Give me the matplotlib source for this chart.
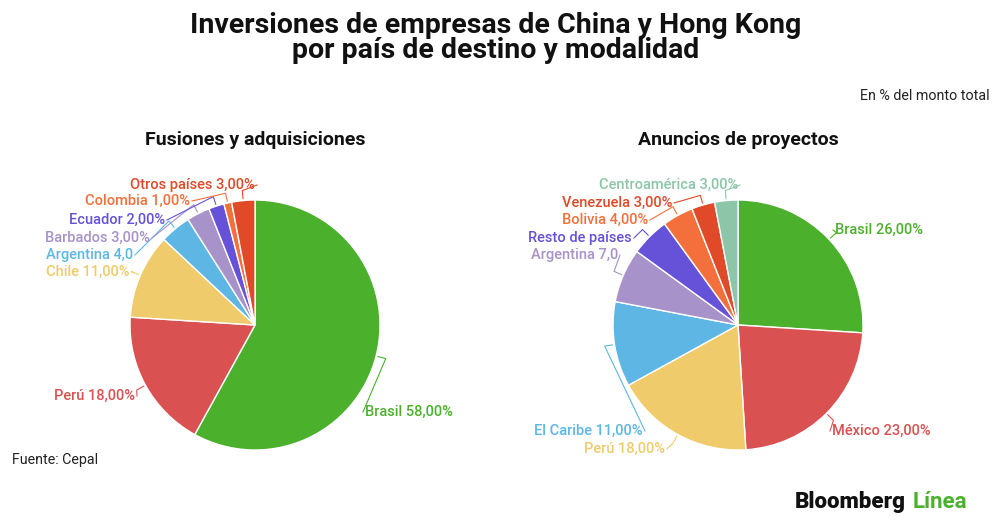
import matplotlib.pyplot as plt
import numpy as np

plt.rcParams['font.family'] = ['Roboto', 'DejaVu Sans']

# datos
izq_labels = ["Brasil", "Perú", "Chile", "Argentina", "Barbados", "Ecuador", "Colombia", "Otros países"]
izq_values = [58, 18, 11, 4, 3, 2, 1, 3]
izq_colors = ["#4bb12d", "#d95151", "#efcb6b", "#5db6e3", "#a792c9", "#6652d9", "#f3703c", "#e04a28"]

der_labels = ["Brasil", "México", "Perú", "El Caribe", "Argentina", "Resto de países", "Bolivia", "Venezuela", "Centroamérica"]
der_values = [26, 23, 18, 11, 7, 5, 4, 3, 3]
der_colors = ["#4bb12d", "#d95151", "#efcb6b", "#5db6e3", "#a792c9", "#6652d9", "#f3703c", "#e04a28", "#8cc5a8"]

# textos tal como aparecen (algunos cortados en el original)
izq_text = ["Brasil 58,00%", "Perú 18,00%", "Chile 11,00%", "Argentina 4,0", "Barbados 3,00%",
            "Ecuador 2,00%", "Colombia 1,00%", "Otros países 3,00%"]
der_text = ["Brasil 26,00%", "México 23,00%", "Perú 18,00%", "El Caribe 11,00%", "Argentina 7,0",
            "Resto de países", "Bolivia 4,00%", "Venezuela 3,00%", "Centroamérica 3,00%"]

# posiciones de etiquetas en pixeles (x, y, ha)
izq_pos = [(365, 412, 'left'), (135, 396, 'right'), (130, 272, 'right'), (133, 255, 'right'),
           (150, 238, 'right'), (165, 220, 'right'), (190, 201, 'right'), (255, 185, 'right')]
der_pos = [(835, 230, 'left'), (832, 431, 'left'), (665, 449, 'right'), (643, 431, 'right'),
           (618, 255, 'right'), (632, 238, 'right'), (648, 220, 'right'), (672, 203, 'right'),
           (738, 185, 'right')]

W, H = 1000, 530
R = 125
fig = plt.figure(figsize=(10, 5.3), dpi=100)

# eje de fondo en pixeles
bg = fig.add_axes([0, 0, 1, 1])
bg.set_xlim(0, W)
bg.set_ylim(H, 0)
bg.axis('off')


def dibujar_pie(cx, cy, values, colors, texts, pos, titulo):
    side = 300
    ax = fig.add_axes([(cx - side / 2) / W, (H - cy - side / 2) / H, side / W, side / H])
    ax.pie(values, colors=colors, startangle=90, counterclock=False, radius=1,
           wedgeprops=dict(edgecolor='white', linewidth=1))
    ax.set_xlim(-side / 2 / R, side / 2 / R)
    ax.set_ylim(-side / 2 / R, side / 2 / R)
    ax.set_aspect('equal')
    ax.axis('off')

    total = sum(values)
    cum = np.cumsum(values)
    for v, c, col, t, (tx, ty, ha) in zip(values, cum, colors, texts, pos):
        theta = np.deg2rad(90 - 360 * (c - v / 2) / total)
        x0 = cx + (R + 2) * np.cos(theta)
        y0 = cy - (R + 2) * np.sin(theta)
        x1 = cx + (R + 10) * np.cos(theta)
        y1 = cy - (R + 10) * np.sin(theta)
        xe = tx + 2 if ha == 'right' else tx - 2
        bg.plot([x0, x1, xe], [y0, y1, ty], color=col, lw=0.8)
        bg.text(tx, ty, t, color=col, fontsize=10.5, fontweight='medium', ha=ha, va='center')

    bg.text(cx, 140, titulo, fontsize=14, fontweight='bold', ha='center', va='center', color='#111111')


dibujar_pie(255, 325, izq_values, izq_colors, izq_text, izq_pos, "Fusiones y adquisiciones")
dibujar_pie(738, 325, der_values, der_colors, der_text, der_pos, "Anuncios de proyectos")

bg.text(496, 38, "Inversiones de empresas de China y Hong Kong\npor país de destino y modalidad",
        fontsize=20.5, fontweight='bold', ha='center', va='center', color='#111111', linespacing=0.92)
bg.text(990, 96, "En % del monto total", fontsize=10.3, ha='right', va='center', color='#222222')
bg.text(12, 460, "Fuente: Cepal", fontsize=10.3, ha='left', va='center', color='#222222')
bg.text(906, 502, "Bloomberg", fontsize=16, fontweight='heavy', ha='right', va='center', color='#111111')
bg.text(913, 502, "Línea", fontsize=16, fontweight='bold', ha='left', va='center', color='#4bb12d')

fig.savefig("out.png", dpi=100)
